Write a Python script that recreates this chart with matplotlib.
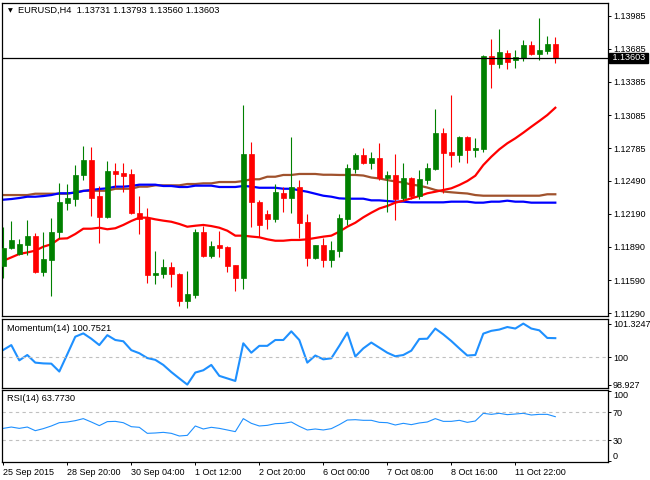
import matplotlib
matplotlib.use("Agg")
import matplotlib.pyplot as plt
import matplotlib.transforms as mtransforms

plt.rcParams["font.family"] = ["Liberation Sans", "DejaVu Sans"]
plt.rcParams["font.size"] = 7

# EURUSD H4 candles (70 bars)
opens = [1.11720, 1.11877, 1.11826, 1.11907, 1.11989, 1.11666, 1.11771, 1.12028, 1.12291, 1.12324,
         1.12542, 1.12677, 1.12354, 1.12161, 1.12578, 1.12557, 1.12551, 1.12195, 1.12155, 1.11638,
         1.11647, 1.11708, 1.11647, 1.11403, 1.11454, 1.12025, 1.11810, 1.11907, 1.11889, 1.11726,
         1.11611, 1.12732, 1.12297, 1.12188, 1.12146, 1.12378, 1.12336, 1.12430, 1.12116, 1.11792,
         1.11907, 1.11771, 1.11853, 1.12146, 1.12599, 1.12723, 1.12653, 1.12698, 1.12517, 1.12542,
         1.12336, 1.12512, 1.12354, 1.12496, 1.12596, 1.12919, 1.12750, 1.12726, 1.12886, 1.12771,
         1.12780, 1.13620, 1.13550, 1.13647, 1.13586, 1.13602, 1.13719, 1.13641, 1.13665, 1.13731]
highs = [1.12073, 1.12127, 1.11964, 1.12134, 1.12013, 1.12028, 1.12152, 1.12472, 1.12460, 1.12632,
         1.12807, 1.12798, 1.12442, 1.12668, 1.12650, 1.12648, 1.12596, 1.12351, 1.12245, 1.11853,
         1.11780, 1.11753, 1.11655, 1.11672, 1.12050, 1.12079, 1.11944, 1.12034, 1.11895, 1.11730,
         1.13176, 1.12843, 1.12315, 1.12224, 1.12460, 1.12430, 1.12886, 1.12496, 1.12188, 1.11910,
         1.11974, 1.11944, 1.12188, 1.12641, 1.12743, 1.12783, 1.12750, 1.12834, 1.12578, 1.12732,
         1.12647, 1.12520, 1.12587, 1.12653, 1.13139, 1.12967, 1.13266, 1.12895, 1.12895, 1.12879,
         1.13629, 1.13774, 1.13864, 1.13674, 1.13674, 1.13765, 1.13756, 1.13964, 1.13801, 1.13793]
lows = [1.11606, 1.11868, 1.11817, 1.11817, 1.11651, 1.11629, 1.11448, 1.11968, 1.12224, 1.12261,
        1.12496, 1.12170, 1.11928, 1.12155, 1.12433, 1.12390, 1.12190, 1.12007, 1.11566, 1.11554,
        1.11611, 1.11530, 1.11357, 1.11339, 1.11430, 1.11801, 1.11792, 1.11801, 1.11666, 1.11491,
        1.11509, 1.12073, 1.11983, 1.12055, 1.12118, 1.12209, 1.12200, 1.11974, 1.11720, 1.11780,
        1.11711, 1.11711, 1.11801, 1.12089, 1.12557, 1.12644, 1.12596, 1.12496, 1.12209, 1.12134,
        1.12315, 1.12324, 1.12324, 1.12460, 1.12587, 1.12376, 1.12617, 1.12662, 1.12653, 1.12707,
        1.12753, 1.13332, 1.13514, 1.13502, 1.13514, 1.13574, 1.13629, 1.13583, 1.13641, 1.13560]
closes = [1.11883, 1.11953, 1.11916, 1.11989, 1.11666, 1.11780, 1.12025, 1.12297, 1.12333, 1.12542,
          1.12677, 1.12336, 1.12164, 1.12578, 1.12553, 1.12532, 1.12195, 1.12140, 1.11636, 1.11656,
          1.11708, 1.11647, 1.11403, 1.11463, 1.12025, 1.11810, 1.11898, 1.11883, 1.11717, 1.11611,
          1.12732, 1.12300, 1.12091, 1.12146, 1.12387, 1.12336, 1.12430, 1.12109, 1.11792, 1.11907,
          1.11771, 1.11862, 1.12152, 1.12605, 1.12723, 1.12653, 1.12695, 1.12517, 1.12542, 1.12324,
          1.12512, 1.12354, 1.12505, 1.12608, 1.12919, 1.12744, 1.12726, 1.12886, 1.12768, 1.12789,
          1.13620, 1.13550, 1.13656, 1.13568, 1.13611, 1.13719, 1.13641, 1.13674, 1.13728, 1.13603]

# moving averages
ma_red = [1.11765, 1.11795, 1.11826, 1.11840, 1.11856, 1.11892, 1.11914, 1.11964, 1.11968, 1.12007,
          1.12055, 1.12055, 1.12064, 1.12050, 1.12059, 1.12089, 1.12125, 1.12155, 1.12155, 1.12140,
          1.12128, 1.12118, 1.12098, 1.12073, 1.12082, 1.12089, 1.12079, 1.12064, 1.12037, 1.11992,
          1.11992, 1.11984, 1.11977, 1.11959, 1.11946, 1.11946, 1.11953, 1.11953, 1.11959, 1.11971,
          1.11983, 1.11992, 1.12028, 1.12073, 1.12109, 1.12158, 1.12200, 1.12238, 1.12261, 1.12291,
          1.12309, 1.12330, 1.12351, 1.12376, 1.12390, 1.12406, 1.12421, 1.12451, 1.12487, 1.12535,
          1.12632, 1.12707, 1.12774, 1.12829, 1.12874, 1.12925, 1.12979, 1.13031, 1.13085, 1.13151]
ma_blue = [1.12318, 1.12324, 1.12333, 1.12345, 1.12345, 1.12351, 1.12360, 1.12376, 1.12376, 1.12381,
           1.12397, 1.12406, 1.12415, 1.12421, 1.12436, 1.12436, 1.12442, 1.12454, 1.12454, 1.12454,
           1.12442, 1.12442, 1.12433, 1.12433, 1.12445, 1.12445, 1.12445, 1.12433, 1.12433, 1.12433,
           1.12442, 1.12437, 1.12426, 1.12426, 1.12426, 1.12417, 1.12417, 1.12403, 1.12390, 1.12372,
           1.12354, 1.12345, 1.12330, 1.12327, 1.12327, 1.12327, 1.12312, 1.12312, 1.12306, 1.12300,
           1.12300, 1.12294, 1.12294, 1.12294, 1.12294, 1.12294, 1.12300, 1.12300, 1.12300, 1.12291,
           1.12291, 1.12300, 1.12300, 1.12309, 1.12300, 1.12300, 1.12291, 1.12291, 1.12291, 1.12291]
ma_brown = [1.12360, 1.12360, 1.12360, 1.12360, 1.12372, 1.12372, 1.12372, 1.12372, 1.12372, 1.12385,
            1.12399, 1.12399, 1.12399, 1.12399, 1.12417, 1.12417, 1.12417, 1.12436, 1.12436, 1.12448,
            1.12448, 1.12448, 1.12448, 1.12460, 1.12460, 1.12466, 1.12466, 1.12478, 1.12478, 1.12478,
            1.12487, 1.12503, 1.12503, 1.12526, 1.12526, 1.12542, 1.12542, 1.12551, 1.12551, 1.12551,
            1.12544, 1.12544, 1.12542, 1.12542, 1.12542, 1.12537, 1.12519, 1.12510, 1.12496, 1.12483,
            1.12474, 1.12455, 1.12445, 1.12428, 1.12406, 1.12392, 1.12385, 1.12379, 1.12374, 1.12360,
            1.12354, 1.12354, 1.12354, 1.12354, 1.12354, 1.12354, 1.12354, 1.12354, 1.12367, 1.12367]

momentum = [100.29, 100.48, 99.88, 100.09, 99.79, 99.76, 99.75, 99.44, 100.12, 100.81,
            100.94, 100.73, 100.48, 100.87, 100.68, 100.63, 100.28, 100.16, 99.97, 99.90,
            99.70, 99.42, 99.17, 98.927, 99.40, 99.49, 99.70, 99.27, 99.17, 99.07,
            100.55, 100.18, 100.45, 100.45, 100.68, 100.68, 101.02, 100.68, 99.79, 100.07,
            99.92, 99.96, 100.45, 100.97, 100.03, 100.35, 100.58, 100.38, 100.18, 100.04,
            100.09, 100.26, 100.72, 100.73, 101.13, 100.90, 100.64, 100.35, 100.07, 100.09,
            100.93, 101.04, 101.09, 101.19, 101.13, 101.3247, 101.13, 101.06, 100.76, 100.7521]
rsi = [47.1, 49.0, 47.1, 49.0, 43.8, 46.7, 50.5, 55.2, 56.2, 58.1,
       61.0, 56.2, 51.0, 56.7, 57.1, 55.2, 49.5, 48.6, 40.0, 40.5,
       41.4, 40.0, 36.2, 37.1, 50.5, 46.2, 48.6, 47.1, 44.8, 42.4,
       61.0, 54.3, 50.5, 51.4, 53.8, 54.3, 56.2, 50.0, 44.8, 46.2,
       44.8, 46.7, 52.4, 59.0, 59.5, 58.6, 58.6, 55.7, 55.2, 51.9,
       54.3, 52.4, 54.8, 56.2, 61.0, 57.1, 57.1, 58.6, 55.7, 57.6,
       68.6, 67.1, 68.6, 66.7, 67.6, 68.6, 66.2, 67.1, 67.1, 63.773]

price_ticks = [1.11290, 1.11590, 1.11890, 1.12190, 1.12490, 1.12785, 1.13085, 1.13385, 1.13685, 1.13985]
date_ticks = [0, 8, 16, 24, 32, 40, 48, 56, 64]
date_labels = ["25 Sep 2015", "28 Sep 20:00", "30 Sep 04:00", "1 Oct 12:00", "2 Oct 20:00",
               "6 Oct 00:00", "7 Oct 08:00", "8 Oct 16:00", "11 Oct 22:00"]

W, H = 650, 480
fig = plt.figure(figsize=(W / 100, H / 100), dpi=100)


def px_axes(left, top, right, bottom):
    return fig.add_axes([left / W, 1 - bottom / H, (right - left) / W, (bottom - top) / H])


ax = px_axes(2, 2.7, 607.7, 316)
ax_mom = px_axes(2, 318.7, 607.7, 388)
ax_rsi = px_axes(2, 390, 607.7, 462)

xs = list(range(len(closes)))
green = "#008000"
red = "#ff0000"
lab_fs = 6.5

for a in (ax, ax_mom, ax_rsi):
    a.set_xlim(-0.1625, 75.55)
    for s in a.spines.values():
        s.set_linewidth(0.9)
        s.set_color("black")
    a.yaxis.tick_right()
    a.tick_params(axis="y", direction="out", length=2.2, width=0.7, pad=1.5, labelsize=lab_fs)
    a.tick_params(axis="x", direction="out", length=2.2, width=0.7, pad=2, labelsize=lab_fs)
    a.set_xticks([])

# candles
for x, o, h, l, c in zip(xs, opens, highs, lows, closes):
    col = green if c >= o else red
    ax.vlines(x, l, h, color=col, lw=0.8, zorder=3)
    ax.bar(x, c - o, bottom=o, width=0.56, color=col, edgecolor=col, lw=0.5, zorder=4)

ax.plot(xs, ma_brown, color="#a0522d", lw=1.6, zorder=2)
ax.plot(xs, ma_blue, color="#0000ff", lw=1.6, zorder=2)
ax.plot(xs, ma_red, color=red, lw=1.6, zorder=2)

ax.axhline(closes[-1], color="black", lw=0.9, zorder=5)
ax.set_ylim(1.11264, 1.14103)
ax.set_yticks(price_ticks)
ax.set_yticklabels(["%.5f" % p for p in price_ticks])

trans = mtransforms.blended_transform_factory(ax.transAxes, ax.transData)
ax.text(1.003, closes[-1], " %.5f " % closes[-1], transform=trans, color="white", fontsize=lab_fs,
        va="center", ha="left", zorder=10,
        bbox=dict(boxstyle="square,pad=0.08", facecolor="black", edgecolor="black"))

fig.text(10 / W, 1 - 10.5 / H, "\u25bc", family="DejaVu Sans", fontsize=4.5, ha="center", va="center")
fig.text(18 / W, 1 - 10.5 / H,
         "EURUSD,H4  %.5f %.5f %.5f %.5f" % (opens[-1], highs[-1], lows[-1], closes[-1]),
         fontsize=6.7, ha="left", va="center")

# momentum
ax_mom.plot(xs, momentum, color="#1e90ff", lw=1.5)
ax_mom.axhline(100, color="#c0c0c0", lw=0.8, ls=(0, (3, 3)))
ax_mom.set_ylim(98.793, 101.517)
ax_mom.set_yticks([98.927, 100, 101.3247])
ax_mom.set_yticklabels(["98.927", "100", "101.3247"])
fig.text(7 / W, 1 - 328.3 / H, "Momentum(14) %.4f" % momentum[-1], fontsize=6.7, ha="left", va="center")

# RSI
ax_rsi.plot(xs, rsi, color="#1e90ff", lw=0.8)
for lvl in (70, 30):
    ax_rsi.axhline(lvl, color="#c0c0c0", lw=0.8, ls=(0, (3, 3)))
ax_rsi.set_ylim(-0.95, 101.9)
ax_rsi.set_yticks([0, 30, 70, 100])
ax_rsi.set_yticklabels(["0", "30", "70", "100"])
rl = ax_rsi.get_yticklabels()
rl[0].set_va("bottom")
rl[-1].set_va("top")
fig.text(7 / W, 1 - 398.7 / H, "RSI(14) %.4f" % rsi[-1], fontsize=6.7, ha="left", va="center")

ax_rsi.set_xticks(date_ticks)
ax_rsi.set_xticklabels(date_labels, ha="left")

fig.savefig("out.png", dpi=100, facecolor="white")
